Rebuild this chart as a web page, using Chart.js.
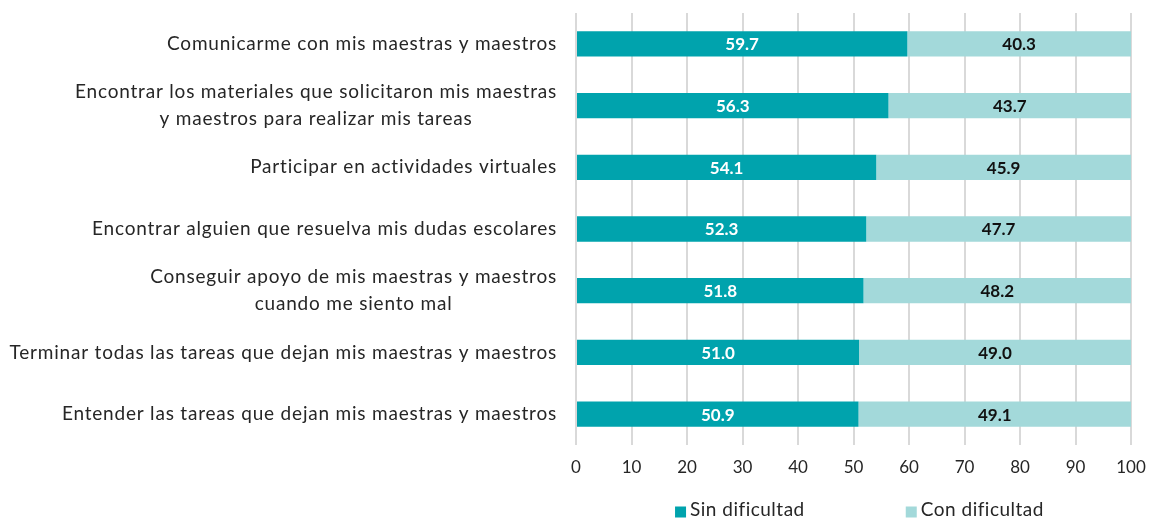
<!DOCTYPE html>
<html>
<head>
<meta charset="utf-8">
<script src="https://cdn.jsdelivr.net/npm/chart.js@4.4.1/dist/chart.umd.min.js"></script>
<style>
html,body{margin:0;padding:0;background:#fff;}
#wrap{width:1151px;height:519px;position:relative;}
</style>
</head>
<body>
<div id="wrap"><canvas id="c" width="1151" height="519"></canvas></div>
<script>
const categories = [
  ["Comunicarme con mis maestras y maestros"],
  ["Encontrar los materiales que solicitaron mis maestras", "y maestros para realizar mis tareas"],
  ["Participar en actividades virtuales"],
  ["Encontrar alguien que resuelva mis dudas escolares"],
  ["Conseguir apoyo de mis maestras y maestros", "cuando me siento mal"],
  ["Terminar todas las tareas que dejan mis maestras y maestros"],
  ["Entender las tareas que dejan mis maestras y maestros"]
];
const sinDificultad = [59.7, 56.3, 54.1, 52.3, 51.8, 51.0, 50.9];
const conDificultad = [40.3, 43.7, 45.9, 47.7, 48.2, 49.0, 49.1];
const seriesNames = ["Sin dificultad", "Con dificultad"];
const seriesColors = ["#00A3AD", "#A3D9DA"];
const labelColors = ["#ffffff", "#111111"];

const FONT = "Lato, 'Open Sans', sans-serif";

const yLabelPlugin = {
  id: 'yLabels',
  afterDraw(chart) {
    const ctx = chart.ctx;
    const y = chart.scales.y;
    const rightX = chart.chartArea.left - 19;
    ctx.save();
    ctx.font = "19px " + FONT;
    ctx.letterSpacing = "0.8px";
    ctx.fillStyle = "#262626";
    ctx.textBaseline = "middle";
    categories.forEach((lines, i) => {
      const cy = y.getPixelForValue(i);
      const widths = lines.map(l => ctx.measureText(l).width);
      const maxW = Math.max(...widths);
      const center = rightX - maxW / 2;
      const lh = 27;
      const startY = cy - (lines.length - 1) * lh / 2;
      lines.forEach((l, j) => {
        ctx.textAlign = "center";
        ctx.fillText(l, center, startY + j * lh);
      });
    });
    ctx.restore();
  }
};

const valueLabelPlugin = {
  id: 'valueLabels',
  afterDatasetsDraw(chart) {
    const ctx = chart.ctx;
    ctx.save();
    ctx.font = "bold 17px " + FONT;
    ctx.textAlign = "center";
    ctx.textBaseline = "middle";
    chart.data.datasets.forEach((ds, di) => {
      const meta = chart.getDatasetMeta(di);
      ctx.fillStyle = labelColors[di];
      meta.data.forEach((bar, i) => {
        const cx = (bar.x + bar.base) / 2;
        ctx.fillText(ds.data[i].toFixed(1), cx, bar.y + 1);
      });
    });
    ctx.restore();
  }
};

const legendPlugin = {
  id: 'manualLegend',
  afterDraw(chart) {
    const ctx = chart.ctx;
    const ca = chart.chartArea;
    ctx.save();
    ctx.font = "19px " + FONT;
    ctx.letterSpacing = "0.5px";
    ctx.textBaseline = "middle";
    ctx.textAlign = "left";
    const box = 11, gapText = 4, gapItems = 101;
    const widths = seriesNames.map(n => box + gapText + ctx.measureText(n).width);
    const total = widths.reduce((a, b) => a + b, 0) + gapItems * (seriesNames.length - 1);
    let x = (ca.left + ca.right) / 2 + 6 - total / 2;
    const yc = 510;
    seriesNames.forEach((n, i) => {
      ctx.fillStyle = seriesColors[i];
      ctx.fillRect(x, yc - box / 2 + 2, box, box);
      ctx.fillStyle = "#262626";
      ctx.fillText(n, x + box + gapText, yc);
      x += widths[i] + gapItems;
    });
    ctx.restore();
  }
};

new Chart(document.getElementById('c'), {
  type: 'bar',
  data: {
    labels: categories.map(c => c.join(' ')),
    datasets: [
      { label: seriesNames[0], data: sinDificultad, backgroundColor: seriesColors[0], borderWidth: 0 },
      { label: seriesNames[1], data: conDificultad, backgroundColor: seriesColors[1], borderWidth: 0 }
    ]
  },
  options: {
    indexAxis: 'y',
    responsive: false,
    animation: false,
    devicePixelRatio: 1,
    layout: { padding: { top: 13, right: 20, left: 0, bottom: 0 } },
    datasets: { bar: { categoryPercentage: 1, barPercentage: 0.41 } },
    plugins: {
      legend: { display: false },
      tooltip: { enabled: false }
    },
    scales: {
      x: {
        stacked: true,
        min: 0, max: 100,
        ticks: { stepSize: 10, color: "#262626", font: { family: FONT, size: 17 }, padding: 12 },
        grid: { color: "#d9d9d9", lineWidth: 2, drawTicks: false },
        border: { display: false },
        afterFit(scale) { scale.height = 74; scale.paddingRight = 0; scale.paddingLeft = 0; }
      },
      y: {
        stacked: true,
        ticks: { display: false },
        grid: { display: false },
        border: { display: false },
        afterFit(scale) { scale.width = 576; }
      }
    }
  },
  plugins: [yLabelPlugin, valueLabelPlugin, legendPlugin]
});
</script>
</body>
</html>
